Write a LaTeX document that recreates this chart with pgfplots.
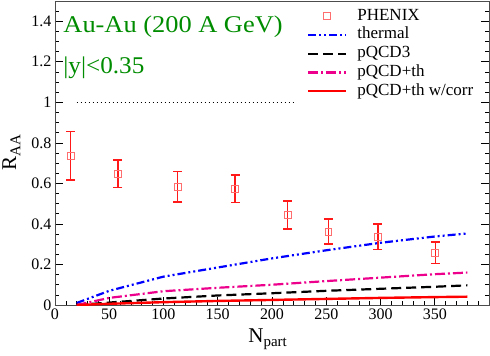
\documentclass[border=0pt]{standalone}
\usepackage{pgfplots}
\pgfplotsset{compat=1.18}
\usepackage{fontspec}
\setmainfont{Liberation Serif}
\newfontfamily\widefont[FakeStretch=1.1]{Liberation Serif}
\newfontfamily\semiwidefont[FakeStretch=1.05]{Liberation Serif}
\definecolor{dkgreen}{RGB}{0,140,0}
\definecolor{mkred}{RGB}{255,110,110}
\begin{document}
\begin{tikzpicture}[x=1pt,y=1pt]
\begin{axis}[
  at={(0,0)}, anchor=south west,
  scale only axis, width=434pt, height=304pt,
  xmin=0, xmax=400, ymin=0, ymax=1.5,
  xtick={0,50,...,350}, minor xtick={0,10,...,400},
  ytick={0,0.2,...,1.41}, minor ytick={0,0.05,...,1.5},
  xtick pos=bottom, ytick pos=both,
  major tick length=8pt, minor tick length=4pt,
  tick style={black, line width=0.6pt},
  axis line style={line width=0.9pt, black!70},
  tick label style={font=\fontsize{16}{16}\selectfont},
  /pgf/number format/assume math mode=true,
  xlabel={\fontsize{21}{21}\selectfont N\raisebox{-0.45ex}{\fontsize{15}{15}\selectfont part}},
  ylabel={\fontsize{21}{21}\selectfont R\raisebox{-0.45ex}{\fontsize{15}{15}\selectfont AA}},
  xlabel style={at={(rel axis cs:0.49,0)}, anchor=north, yshift=-20pt},
  ylabel style={at={(rel axis cs:0,0.5)}, anchor=south, yshift=31pt},
  legend style={at={(0.5806,0.977)}, anchor=north west, draw=none, fill=none, inner sep=0pt,
    font=\fontsize{17}{17}\selectfont, row sep=2.75pt,
    nodes={inner sep=0pt, text height=12pt, text depth=4pt}},
  legend cell align=left,
]
\addplot[color=red, only marks, mark=square, mark size=3.4pt, mark options={draw=mkred, line width=1pt, fill=none},
  legend image code/.code={\draw[mkred, line width=1pt] (15.6pt,-3.4pt) rectangle (22.4pt,3.4pt); \path[draw=none] (0pt,0pt) -- (49pt,0pt);},
  error bars/.cd, y dir=both, y explicit, error bar style={line width=1.5pt, red!90},
  error mark options={rotate=90, mark size=4.5pt, line width=1.5pt, red!90}]
  coordinates {
  (14.5,0.736) +- (0,0.12)
  (58,0.648) +- (0,0.068)
  (113,0.583) +- (0,0.075)
  (166,0.573) +- (0,0.068)
  (214.5,0.444) +- (0,0.07)
  (252,0.362) +- (0,0.062)
  (297.5,0.337) +- (0,0.062)
  (350.5,0.258) +- (0,0.053)
  };
\addlegendentry{PHENIX}
\addplot[blue, line width=2.2pt, dash pattern=on 8pt off 3pt on 2pt off 3pt on 2pt off 3pt,
  legend image code/.code={\draw[blue, line width=2.2pt, dash pattern=on 8pt off 3pt on 2pt off 3pt on 2pt off 3pt] (0pt,0pt) -- (38pt,0pt); \path[draw=none] (0pt,0pt) -- (49pt,0pt);}]
  coordinates {(20,0.01) (50,0.07) (100,0.14) (150,0.185) (200,0.23) (250,0.27) (300,0.307) (350,0.338) (380,0.353)};
\addlegendentry{thermal}
\addplot[black, line width=2.2pt, dash pattern=on 10pt off 5pt,
  legend image code/.code={\draw[black, line width=2.2pt, dash pattern=on 10pt off 5pt] (0pt,0pt) -- (38pt,0pt); \path[draw=none] (0pt,0pt) -- (49pt,0pt);}]
  coordinates {(20,0.0) (50,0.012) (100,0.032) (150,0.047) (200,0.058) (250,0.07) (300,0.08) (350,0.09) (380,0.097)};
\addlegendentry{pQCD3}
\addplot[magenta, line width=2.2pt, dash pattern=on 10pt off 3pt on 2pt off 3pt,
  legend image code/.code={\draw[magenta, line width=2.2pt, dash pattern=on 10pt off 3pt on 2pt off 3pt] (0pt,0pt) -- (38pt,0pt); \path[draw=none] (0pt,0pt) -- (49pt,0pt);}]
  coordinates {(20,0.0) (50,0.035) (100,0.068) (150,0.085) (200,0.1) (250,0.118) (300,0.135) (350,0.152) (380,0.16)};
\addlegendentry{pQCD+th}
\addplot[red, line width=2.4pt,
  legend image code/.code={\draw[red, line width=2.4pt] (0pt,0pt) -- (38pt,0pt); \path[draw=none] (0pt,0pt) -- (49pt,0pt);}]
  coordinates {(20,0.0) (50,0.006) (100,0.014) (150,0.02) (200,0.025) (250,0.03) (300,0.035) (350,0.039) (380,0.041)};
\addlegendentry{pQCD+th w/corr}
\addplot[black, line width=1pt, dash pattern=on 1pt off 3pt, forget plot]
  coordinates {(20,1) (220,1)};
\node[anchor=base west, text=dkgreen, font=\widefont\fontsize{24}{24}\selectfont, inner sep=0pt] at (rel axis cs:0.019,0.895) {Au-Au (200 A GeV)};
\node[anchor=base west, text=dkgreen, font=\semiwidefont\fontsize{24}{24}\selectfont, inner sep=0pt] at (rel axis cs:0.019,0.76) {|y|<0.35};
\end{axis}
\pgfresetboundingbox
\path[use as bounding box] (-55pt,-51pt) rectangle (435pt,305pt);
\end{tikzpicture}
\end{document}
